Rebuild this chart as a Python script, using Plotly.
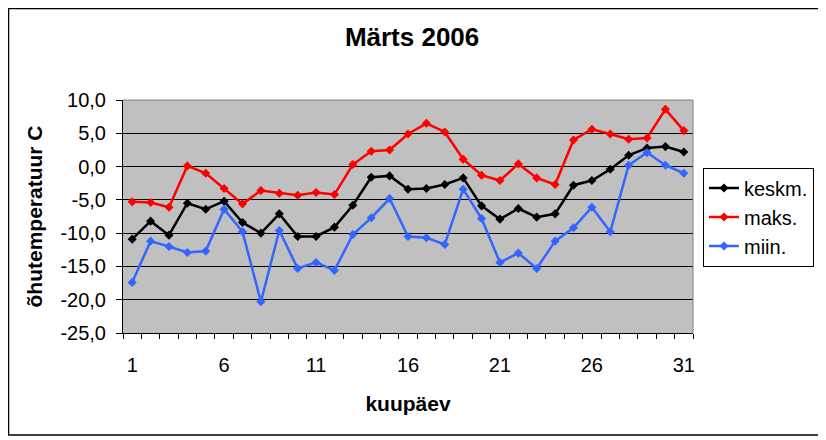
import plotly.graph_objects as go

# March 2006 daily air temperature
days = list(range(1, 32))
keskm = [-10.9, -8.2, -10.3, -5.5, -6.4, -5.2, -8.4, -10.0, -7.1, -10.5, -10.5, -9.1, -5.8, -1.6, -1.4, -3.4,
         -3.3, -2.7, -1.7, -5.9, -7.9, -6.3, -7.6, -7.1, -2.8, -2.1, -0.4, 1.7, 2.8, 3.0, 2.2]
maks = [-5.3, -5.4, -6.1, 0.1, -1.0, -3.3, -5.6, -3.6, -4.0, -4.3, -3.9, -4.2, 0.3, 2.3, 2.5, 4.9,
        6.5, 5.2, 1.1, -1.3, -2.1, 0.4, -1.7, -2.7, 4.0, 5.6, 4.9, 4.1, 4.3, 8.6, 5.4]
miin = [-17.4, -11.2, -12.0, -12.9, -12.7, -6.4, -9.8, -20.3, -9.6, -15.3, -14.4, -15.6, -10.2, -7.7, -4.8, -10.5,
        -10.7, -11.7, -3.4, -7.8, -14.4, -13.0, -15.3, -11.2, -9.2, -6.1, -9.8, 0.2, 2.1, 0.2, -1.0]

x_tick_vals = [1, 6, 11, 16, 21, 26, 31]
y_tick_vals = [-25, -20, -15, -10, -5, 0, 5, 10]
y_tick_text = ["-25,0", "-20,0", "-15,0", "-10,0", "-5,0", "0,0", "5,0", "10,0"]

font = "Arial, Liberation Sans, sans-serif"

fig = go.Figure()
for name, vals, col in [("keskm.", keskm, "#000000"), ("maks.", maks, "#FF0000"), ("miin.", miin, "#3366FF")]:
    fig.add_trace(go.Scatter(x=days, y=vals, name=name, mode="lines+markers",
                             line=dict(color=col, width=2.5),
                             marker=dict(symbol="diamond", size=7, color=col)))

# the page adds an 8px body margin, so the figure is 8px smaller than the window
fig.update_layout(
    width=818, height=432,
    margin=dict(l=115, r=133, t=92, b=107),
    paper_bgcolor="white", plot_bgcolor="#C0C0C0",
    font=dict(family=font, color="black", size=20),
    title=dict(text="<b>Märts 2006</b>", x=0.494, xanchor="center", y=0.933, yanchor="middle",
               font=dict(size=26, family=font)),
    legend=dict(x=1.0175, xanchor="left", y=0.71, yanchor="top",
                bordercolor="black", borderwidth=1, bgcolor="white",
                font=dict(size=20), tracegroupgap=0),
    showlegend=True,
)

fig.update_xaxes(range=[0.5, 31.5], tickmode="array", tickvals=x_tick_vals, ticks="",
                 showgrid=False, zeroline=False, showline=True, linecolor="black", linewidth=1,
                 ticklabelstandoff=14,
                 minor=dict(tickmode="array", tickvals=[d + 0.5 for d in range(0, 32)],
                            ticks="outside", ticklen=5, tickcolor="black", showgrid=False),
                 title=dict(text="<b>kuupäev</b>", font=dict(size=21), standoff=21))
fig.update_yaxes(range=[-25, 10], tickmode="array", tickvals=y_tick_vals, ticktext=y_tick_text,
                 ticks="outside", ticklen=6, tickcolor="black", ticklabelstandoff=6,
                 showgrid=True, gridcolor="black", gridwidth=1, zeroline=False,
                 showline=True, linecolor="black", linewidth=1,
                 title=dict(text="<b>õhutemperatuur C</b>", font=dict(size=21), standoff=12))

# grey plot-area border on top and right
fig.add_shape(type="path", xref="paper", yref="paper", path="M 0 1 L 1 1 L 1 0",
              line=dict(color="#808080", width=1), layer="above")
# outer chart frame
fig.add_shape(type="rect", xref="paper", yref="paper", x0=-0.2009, x1=1.2211, y0=-0.4378, y1=1.3927,
              line=dict(color="black", width=1.5))

fig.write_html("out.html")
